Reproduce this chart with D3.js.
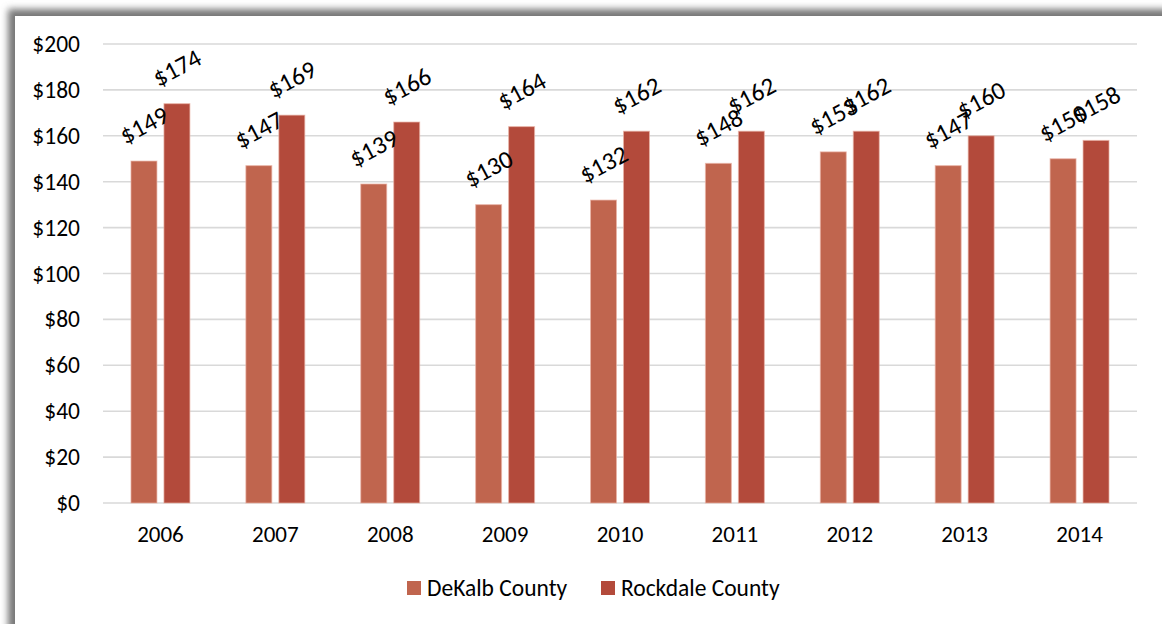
<!DOCTYPE html>
<html>
<head>
<meta charset="utf-8">
<script src="https://cdn.jsdelivr.net/npm/d3@7"></script>
<style>
  html, body { margin: 0; padding: 0; background: #ffffff; }
  svg { display: block; }
  text { font-family: "Carlito", "Open Sans", sans-serif; fill: #000; }
</style>
</head>
<body>
<svg id="chart" width="1162" height="624"></svg>
<script>
const years = ["2006", "2007", "2008", "2009", "2010", "2011", "2012", "2013", "2014"];
const seriesNames = ["DeKalb County", "Rockdale County"];
const dekalb = [149, 147, 139, 130, 132, 148, 153, 147, 150];
const rockdale = [174, 169, 166, 164, 162, 162, 162, 160, 158];
const yTicks = [0, 20, 40, 60, 80, 100, 120, 140, 160, 180, 200];
const colors = ["#C0654E", "#B34A3B"];

const svg = d3.select("#chart");
const W = 1162, H = 624;
const FONT = '"Carlito","Open Sans",sans-serif';

// frame shadow
const defs = svg.append("defs");
const f = defs.append("filter").attr("id", "blur").attr("x", "-10%").attr("y", "-10%").attr("width", "120%").attr("height", "120%");
f.append("feGaussianBlur").attr("stdDeviation", 3.5);
svg.append("rect").attr("x", 0).attr("y", 0).attr("width", W).attr("height", H).attr("fill", "#ffffff");
svg.append("rect").attr("x", 8).attr("y", 9).attr("width", W + 40).attr("height", H + 40)
  .attr("fill", "#777777").attr("filter", "url(#blur)");
svg.append("rect").attr("x", 15).attr("y", 16).attr("width", W).attr("height", H)
  .attr("fill", "#ffffff");

const x0 = d3.scaleBand().domain(years).range([103, 1137]);
const x1 = d3.scaleBand().domain(seriesNames).range([0, x0.bandwidth()])
  .paddingInner(7 / 33).paddingOuter(28 / 33);
const y = d3.scaleLinear().domain([0, 200]).range([503, 44]);

// gridlines
svg.append("g").selectAll("line").data(yTicks).join("line")
  .attr("x1", 103).attr("x2", 1137)
  .attr("y1", d => y(d)).attr("y2", d => y(d))
  .attr("stroke", "#D9D9D9").attr("stroke-width", 1.6);

// y axis labels
const yAxis = d3.axisLeft(y).tickValues(yTicks).tickFormat(d => "$" + d).tickSize(0).tickPadding(0);
const gy = svg.append("g").attr("transform", "translate(80,0)").call(yAxis);
gy.select(".domain").remove();
gy.selectAll("text").attr("font-size", 23.5).style("font-family", FONT).attr("fill", "#000");

// x axis labels
const xAxis = d3.axisBottom(x0).tickSize(0).tickPadding(0);
const gx = svg.append("g").attr("transform", "translate(0,526)").call(xAxis);
gx.select(".domain").remove();
gx.selectAll("text").attr("font-size", 23).style("font-family", FONT).attr("fill", "#000");

const data = years.map((yr, i) => ({ year: yr, values: [
  { name: seriesNames[0], v: dekalb[i], c: colors[0] },
  { name: seriesNames[1], v: rockdale[i], c: colors[1] }
]}));

const groups = svg.append("g").selectAll("g").data(data).join("g")
  .attr("transform", d => `translate(${x0(d.year)},0)`);

groups.selectAll("rect").data(d => d.values).join("rect")
  .attr("x", d => x1(d.name))
  .attr("width", x1.bandwidth())
  .attr("y", d => y(d.v))
  .attr("height", d => y(0) - y(d.v))
  .attr("fill", d => d.c)
  .attr("stroke", "#E9B3A6").attr("stroke-width", 1).attr("stroke-opacity", 0.7);

groups.selectAll("text.lbl").data(d => d.values).join("text")
  .attr("class", "lbl")
  .attr("transform", d => `translate(${x1(d.name) + x1.bandwidth() / 2},${y(d.v) - 36}) rotate(-28)`)
  .attr("text-anchor", "middle")
  .attr("dominant-baseline", "central")
  .attr("font-size", 25)
  .text(d => "$" + d.v);

// legend
const legend = svg.append("g").attr("transform", "translate(0,588)");
const legX = [407, 601];
seriesNames.forEach((n, i) => {
  legend.append("rect").attr("x", legX[i]).attr("y", -7).attr("width", 14).attr("height", 14).attr("fill", colors[i]);
  legend.append("text").attr("x", legX[i] + 20).attr("y", 0).attr("dominant-baseline", "central")
    .attr("font-size", 23.5).text(n);
});
</script>
</body>
</html>
